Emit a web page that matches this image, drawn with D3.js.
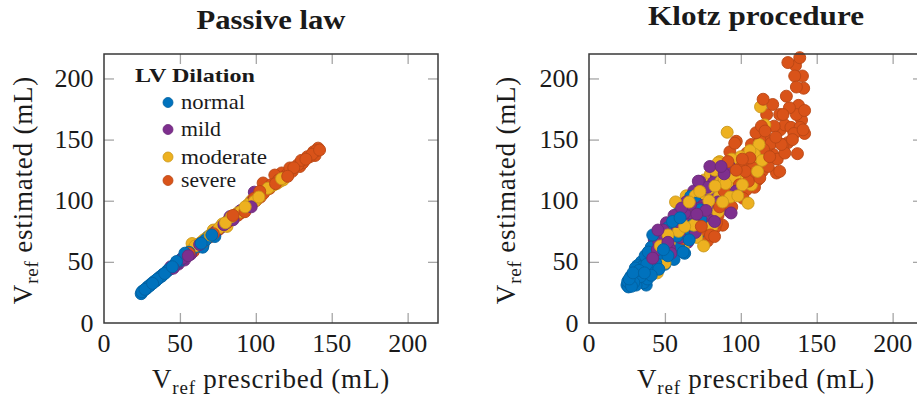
<!DOCTYPE html>
<html><head><meta charset="utf-8">
<script src="https://cdn.jsdelivr.net/npm/d3@7"></script>
<style>body{margin:0;background:#fff}</style>
</head><body>
<svg id="chart" width="917" height="399"></svg>
<script>
const categories = ["normal", "mild", "moderate", "severe"];
const seriesColors = ["#0072BD", "#7E2F8E", "#EDB120", "#D95319"];
const tickValues = [0, 50, 100, 150, 200];
const panelTitles = ["Passive law", "Klotz procedure"];
const legendTitle = "LV Dilation";
const xLabelMain = " prescribed (mL)";
const yLabelMain = " estimated (mL)";

// Passive law: [V_ref prescribed, V_ref estimated]
const passiveNormal = [[24.5,24],[25,25.5],[26,26.5],[27,27.5],[28,28.2],[29,29.8],[30,30.3],[31,31.8],[32,32.4],[33,33.9],[34,34.3],[35,35.8],[36,36.6],[37,37.8],[38,38.3],[39,39.9],[40,40.5],[41.2,42],[42.3,43.4],[43,43.8],[44,44.6],[45,46],[46,46.4],[47,48],[47.8,50.3],[49,50],[50,50.8],[51,52.4],[52,52.6],[53.3,57.1],[54,55],[55,56.2],[56,57.8],[57,58],[59,60.4],[60,62],[62,63],[64,65.2],[65,62],[65.3,64],[67,68],[69,71],[71,72],[73,70.7],[74,75]];
const passiveMild = [[44,46],[45.6,44.8],[47,47.4],[49,48.2],[52,53],[53,51.5],[55.5,55],[57,56.2],[60,61],[63,64.2],[66,67],[70,71],[73,74.2],[76,77],[79,80.4],[82,84],[83,87],[85,84.4],[88,89],[90,92],[93,94],[95,96.2],[97,95],[98,100],[99,107]];
const passiveModerate = [[57,59],[58,65],[60,63],[62,64.5],[64,66],[66,68.2],[68,70],[70,72],[72,76],[74,76],[76,78],[78,81],[80,82],[81,79],[83,84.2],[84,87],[86,87.4],[88,90],[90,91],[91.6,91],[93,95],[95,97],[97,100],[99,99.4],[100.4,100.8],[102,103],[104,105],[106,108],[108,110.2],[110,112],[112,113],[114,114.2],[115.8,115.8],[117,118],[118,117]];
const passiveSevere = [[56,57],[58.8,58.4],[61,62],[65,66],[69,70],[72,73],[75,76],[78,79],[81,82],[84,85],[85,88],[88,88],[90,90],[92.8,91],[95,95],[97,98],[99,102],[100,100],[102.6,107.6],[103,103],[104.8,114.5],[105,106],[107,109],[109,110],[110,113],[112.5,121],[113,114],[115,117],[117,122.7],[118,119],[120,121],[121,120],[122.4,126.8],[124,124],[125,127],[127.8,129.5],[129,128],[130,133],[131,131],[133,134],[134,136],[135.5,136],[137,138],[138,140],[139,137],[140,141],[141,143],[142,141.5]];

// Klotz procedure
const klotzNormal = [[25,31],[25.5,34],[26,29.5],[26.5,36],[27,32],[27.5,38],[28,30],[28.5,35],[29,41],[29.5,33],[30,37],[30.5,45],[31,31],[31.5,40],[32,47],[32.5,35],[33,43],[34,38],[34.5,50],[35,46],[36,33],[36.5,41],[37,55],[37.7,31],[38,48],[38.5,36],[39,44],[39,58],[40,52],[41,39],[41,62],[42,58],[42,72],[43,47],[44,54],[44,49],[45,63],[46,44],[46,67],[47,51],[48,57],[48,74],[49,60],[50,48],[51,66],[52,55],[52,78],[53,62],[54.4,70.7],[55,60],[55,83],[56,52],[57.7,79],[58,71],[59,64],[60,86],[60,94],[61,75],[62,58],[63,57],[63,96],[64,74],[65.3,87],[66,68],[66,97],[67,103.5],[68,80],[69,85],[70,91],[71,98],[72,73],[73,92.6],[74,84],[75,97]];
const klotzMild = [[40,45],[42,53],[43,68],[44,62],[45,60],[45.6,70.7],[45.4,76],[46,66],[47,50],[48.9,76],[49,64],[50,58],[50,71],[51,82],[52,66],[53,61],[53,79],[54,57],[55,73],[55,65],[56,88],[57,62],[58,83],[58,76],[59,89],[60,70],[60,81],[61,94],[62,78],[63,72],[63,90],[64,99],[65,66],[66,90],[66,83],[67,97],[68,84],[69,108],[70,74],[70,100],[71,89],[72,116],[73,115.8],[73,94],[74,106],[75,103],[75,96],[76,80],[77,92],[78,111],[78,102],[79.6,128],[80,104],[80.7,111.7],[81.6,84.4],[82,115],[82.7,83],[83,96],[84,120],[85,99],[86,107],[87,128],[87,100.8],[88,112],[89,122],[90,96],[91,113],[92.5,128],[92.8,91],[93.6,90],[95,118],[96,122],[97,108]];
const klotzModerate = [[44,57],[45,41],[47,63],[48,55],[49,69],[50,49],[51,62],[52,72],[53,66],[54,59],[55,70],[56,80],[57,99],[57,85],[58,68],[59,75],[60,88],[61,92],[61,81],[62,62],[63,79],[64,84],[64,104],[65,96],[66.4,76],[66,99],[67,93],[68,87],[69,80],[70,104],[70,85],[71,70],[72,98],[73,107.6],[73,101],[74,110],[75.5,63],[76,89],[76,117],[77,95],[78.5,87],[79,100],[79,110],[80,122],[81,79],[82,106],[83,112],[83,125],[84,95],[85,91],[85,131],[86,132],[86,104],[87,116],[88,99],[89,118],[90,125],[90,114],[91,156],[91.5,107.6],[92,112],[92,128],[93,103],[94,134],[95,126],[96,119],[97,131],[98,104],[99.5,118.6],[100,136],[101,113],[102,120],[103,127],[104.8,98],[105,128],[106,141],[107,113],[108,120],[109,138],[110,131],[111,124],[112,146],[113,176.8],[114,133],[115.8,162],[117,138]];
const klotzSevere = [[58.8,80],[62,69],[68,73],[70,80],[72,86],[74,79],[76,76],[78,67],[80,72],[83,78],[82.7,70.7],[84,82],[85,88],[86,95],[86,112],[88,80],[89,108],[90,103],[91.5,132],[92,105],[92.8,140],[94,95],[94,124],[95,117],[96,147],[96,113],[97,125],[97,148.6],[98,106],[99,113],[100,128],[101,134],[101.5,102],[102,120],[103,124],[103.7,109],[104,139],[105,116],[106,131],[106,135],[107,121],[107,146],[108,127],[109,111],[110,139],[110,155.6],[111,117],[112.5,118.6],[112.5,150],[113,131],[113.6,161],[114,124],[114.7,183],[115,142],[116,140],[116,157],[117,150],[117,170.5],[118,128],[118,145],[119,136],[120,147],[121,138],[121,178.7],[122,161],[123,152],[123.5,122.7],[124,134],[125.6,124],[125.6,170.5],[126,158],[126.7,146],[127.8,146],[127.8,170.5],[129,139],[129,162],[130,185.5],[131,213],[131,147.5],[132,176],[133,160],[134,150],[135,155],[136,210.6],[135.5,202],[136.6,170.5],[136.6,193],[137.3,138.5],[138,178],[138.8,217],[139,160],[140,166],[140.6,202],[141.4,192],[142,173.8],[141,158],[142,155]];

const svg = d3.select("#chart");
const FONT = '"Liberation Serif", "Tinos", "Times New Roman", serif';
const plotW = 334, plotTop = 54, plotBottom = 323;

const panels = [
  {title: panelTitles[0], series: [passiveNormal, passiveMild, passiveModerate, passiveSevere], x0: 104, titleY: 29, titleLen: 149, ylabX: 31.5, legend: true},
  {title: panelTitles[1], series: [klotzNormal, klotzMild, klotzModerate, klotzSevere], x0: 589, titleY: 25, titleLen: 216, ylabX: 515, legend: false}
];

function txt(x, y, s, size, opts = {}) {
  const t = svg.append("text").attr("x", x).attr("y", y).attr("font-size", size)
    .style("font-family", FONT).style("font-weight", opts.bold ? "bold" : "normal")
    .attr("fill", "#1a1a1a");
  if (opts.anchor) t.attr("text-anchor", opts.anchor);
  if (opts.len) t.attr("textLength", opts.len).attr("lengthAdjust", "spacingAndGlyphs");
  if (s !== null) t.text(s);
  return t;
}

panels.forEach(p => {
  const x = d3.scaleLinear().domain([0, 220]).range([p.x0, p.x0 + plotW]);
  const y = d3.scaleLinear().domain([0, 220]).range([plotBottom, plotTop]);
  const g = svg.append("g");

  // points, drawn in a mixed order across series
  const pts = [];
  p.series.forEach((s, k) => s.forEach((v, i) => pts.push({v, k, o: (i * 0.6180339 + k * 0.27) % 1})));
  pts.sort((a, b) => a.o - b.o);
  g.append("g").selectAll("circle").data(pts).join("circle")
    .attr("cx", d => x(d.v[0])).attr("cy", d => y(d.v[1])).attr("r", 6)
    .attr("fill", d => seriesColors[d.k])
    .attr("stroke", d => d3.color(seriesColors[d.k]).darker(0.45))
    .attr("stroke-width", 0.9);

  // inner ticks on all four sides
  const inner = [50, 100, 150, 200];
  const tickStyle = sel => { sel.select(".domain").remove(); sel.selectAll("text").remove(); sel.selectAll("line").attr("stroke", "#a6a6a6").attr("stroke-width", 1.3); };
  g.append("g").attr("transform", `translate(0,${plotBottom})`).call(d3.axisBottom(x).tickValues(inner).tickSize(-10)).call(tickStyle);
  g.append("g").attr("transform", `translate(0,${plotTop})`).call(d3.axisTop(x).tickValues(inner).tickSize(-10)).call(tickStyle);
  g.append("g").attr("transform", `translate(${p.x0},0)`).call(d3.axisLeft(y).tickValues(inner).tickSize(-10)).call(tickStyle);
  g.append("g").attr("transform", `translate(${p.x0 + plotW},0)`).call(d3.axisRight(y).tickValues(inner).tickSize(-10)).call(tickStyle);

  // frame
  g.append("rect").attr("x", p.x0).attr("y", plotTop).attr("width", plotW).attr("height", plotBottom - plotTop)
    .attr("fill", "none").attr("stroke", "#383838").attr("stroke-width", 1.5);

  // tick labels from the scales
  tickValues.forEach(v => {
    txt(x(v), plotBottom + 29, x.tickFormat()(v), 26, {anchor: "middle"});
    txt(p.x0 - 10.5, y(v) + 8.5, y.tickFormat()(v), 26, {anchor: "end"});
  });

  // title
  txt(p.x0 + plotW / 2, p.titleY, p.title, 27, {bold: true, anchor: "middle", len: p.titleLen});

  // x label
  const xl = txt(p.x0 + 167, 388, null, 27, {anchor: "middle"}).attr("letter-spacing", 0.8);
  xl.append("tspan").text("V");
  xl.append("tspan").attr("dy", 6).attr("font-size", 19).text("ref");
  xl.append("tspan").attr("dy", -6).text(xLabelMain);

  // y label
  const yl = txt(0, 0, null, 27, {anchor: "middle"}).attr("transform", `translate(${p.ylabX},190) rotate(-90)`).attr("letter-spacing", 0.8);
  yl.append("tspan").text("V");
  yl.append("tspan").attr("dy", 6).attr("font-size", 19).text("ref");
  yl.append("tspan").attr("dy", -6).text(yLabelMain);

  if (p.legend) {
    txt(135, 82, legendTitle, 19, {bold: true, len: 120});
    const ly = [102.5, 129.5, 157, 180.5];
    const lens = [64, 40, 86, 55];
    categories.forEach((c, k) => {
      svg.append("circle").attr("cx", 168).attr("cy", ly[k]).attr("r", 5)
        .attr("fill", seriesColors[k]).attr("stroke", d3.color(seriesColors[k]).darker(0.45)).attr("stroke-width", 0.8);
      txt(181, ly[k] + 6.6, c, 21, {len: lens[k]});
    });
  }
});
</script>
</body></html>
